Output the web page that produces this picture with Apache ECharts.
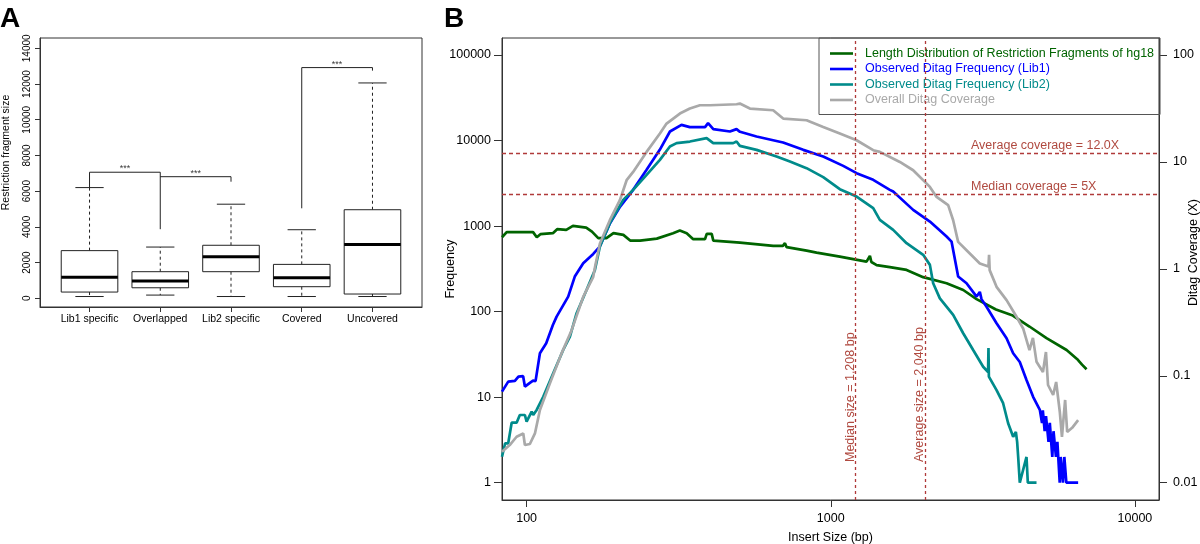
<!DOCTYPE html>
<html><head><meta charset="utf-8">
<script src="https://cdn.jsdelivr.net/npm/echarts@6/dist/echarts.min.js"></script>
<style>html,body{margin:0;padding:0;background:#fff}#c{width:1200px;height:544px}</style>
</head><body><div id="c"></div>
<script>
// ---------- Panel A data ----------
const boxCategories = ['Lib1 specific', 'Overlapped', 'Lib2 specific', 'Covered', 'Uncovered'];
const boxMin    = [100, 180, 100, 100, 100];
const boxQ1     = [350, 590, 1490, 650, 240];
const boxMedian = [1180, 970, 2330, 1150, 3020];
const boxQ3     = [2670, 1490, 2970, 1900, 4960];
const boxMax    = [6200, 2870, 5270, 3840, 12060];
const boxYTicks = [0, 2000, 4000, 6000, 8000, 10000, 12000, 14000];
const bracket1X = [1, 1, 2, 2];       const bracket1Y = [6200, 7060, 7060, 3870];
const bracket2X = [2, 3, 3];          const bracket2Y = [6810, 6810, 6530];
const bracket3X = [4, 4, 5, 5];       const bracket3Y = [5040, 12920, 12920, 12750];
const starX = [1.5, 2.5, 4.5];        const starY = [7060, 6810, 12920];

// ---------- Panel B data ----------
const seriesNames = ['Length Distribution of Restriction Fragments of hg18', 'Observed Ditag Frequency (Lib1)', 'Observed Ditag Frequency (Lib2)', 'Overall Ditag Coverage'];
const xTicks = [100, 1000, 10000];
const freqTicks = [1, 10, 100, 1000, 10000, 100000];
const covTicks = [0.01, 0.1, 1, 10, 100];
const medianSize = 1208, averageSize = 2040, averageCoverage = 12.0, medianCoverage = 5;

const greenX = [83, 86, 105, 108, 111, 122, 126, 135, 142, 157, 164, 172, 183, 193, 208, 219, 236, 268, 303, 319, 336, 353, 386, 391, 406, 411, 503, 647, 696, 707, 716, 833, 898, 1071, 1311, 1345, 1360, 1415, 1564, 1775, 2013, 2403, 2726, 3016, 3492, 3968, 4500, 5121, 5961, 6450, 6700, 6934];
const greenY = [741, 849, 849, 741, 804, 826, 920, 903, 1005, 960, 862, 722, 722, 826, 789, 677, 677, 714, 826, 886, 826, 703, 703, 811, 811, 677, 641, 587, 587, 631, 567, 517, 490, 440, 384, 448, 380, 350, 331, 307, 253, 215, 179, 140, 106, 90, 67, 48.9, 35.6, 28, 24, 21.2];

const blueX = [83, 87, 91.5, 94, 97.4, 98.7, 102.5, 105, 107, 110.6, 116, 122, 125.5, 137, 144, 153.5, 165.6, 168, 174, 188, 203, 224, 248, 274, 296, 323, 344, 386, 395, 411, 466, 490, 503, 570, 697, 812, 944, 1099, 1216, 1379, 1564, 1604, 1866, 2118, 2403, 2495, 2623, 2795, 3016, 3091, 3130, 3252, 3508, 3784, 3978, 4183, 4401, 4627, 4868, 4950, 4980, 5050, 5100, 5200, 5250, 5350, 5400, 5500, 5560, 5660, 5700, 5800, 5860, 5950, 6506];
const blueY = [11.6, 15.2, 15.5, 17.4, 17.6, 13.3, 14.7, 15.6, 15.4, 32.6, 42.7, 69.9, 87.4, 150, 257, 368, 473, 490, 576, 1081, 1690, 2651, 4543, 7783, 12746, 15265, 14346, 14346, 15980, 13591, 12746, 13591, 12645, 11138, 9476, 7783, 6501, 5059, 4156, 3471, 2651, 2532, 1547, 1129, 754, 659, 257, 215, 150, 170, 140, 114, 73.2, 48.9, 32.6, 25.8, 15.9, 10.1, 7.1, 5, 7, 4, 6, 3, 5, 2, 4, 2, 3, 1, 2, 1, 2, 1, 1];

const tealX = [83, 85, 87, 89.3, 92.7, 95, 98.7, 100, 103.9, 105.1, 107.9, 113.4, 122.3, 131.9, 138.8, 146, 157.4, 167.7, 174.2, 187.8, 207.8, 224, 248, 274.3, 295.9, 311.2, 344.2, 390.7, 410.7, 477.7, 490.1, 502.5, 570.3, 663.3, 733.9, 832.6, 944.3, 1071, 1216, 1379, 1450, 1604, 1775, 2013, 2118, 2171, 2284, 2526, 2725, 2939, 3170, 3290, 3300, 3310, 3360, 3508, 3687, 3830, 3978, 4061, 4100, 4132, 4183, 4401, 4420, 4445, 4748];
const tealY = [2.01, 2.89, 2.89, 5.03, 5.03, 6.19, 6.19, 5.17, 6.77, 6.19, 7.1, 10.1, 19.0, 35.6, 51.0, 95.8, 179, 307, 576, 1081, 2025, 2651, 3970, 5947, 8508, 9324, 9734, 10668, 9324, 9324, 9734, 8670, 7783, 6501, 5681, 4756, 3732, 2702, 2213, 1620, 1182, 903, 631, 461, 352, 215, 143, 91.5, 55.9, 35.6, 22.7, 19.7, 37.6, 17.4, 17.4, 12.1, 8.5, 4.95, 3.45, 3.92, 3, 2.01, 1, 2, 2, 1, 1];

const grayX = [83, 88, 92.7, 97.5, 98.7, 102.5, 106.5, 110.6, 119.3, 130.3, 140.6, 153.5, 165.6, 167.9, 174.2, 187.8, 202.6, 213.2, 224, 248, 274.3, 288.5, 319.1, 344.2, 371.3, 400.5, 490.1, 502.5, 542.2, 646.5, 697.4, 832.6, 944.3, 1071, 1216, 1379, 1450, 1687, 1866, 2118, 2228, 2432, 2526, 2623, 2795, 3091, 3300, 3315, 3330, 3508, 3784, 4082, 4290, 4501, 4620, 4748, 4985, 5099, 5180, 5385, 5509, 5664, 5756, 5896, 5988, 6217, 6506];
const grayY = [0.0195, 0.0225, 0.0269, 0.0289, 0.0225, 0.0230, 0.0289, 0.0478, 0.0849, 0.162, 0.267, 0.547, 0.842, 1.044, 1.728, 2.852, 4.386, 6.745, 8.064, 12.41, 18.43, 22.85, 28.34, 31.56, 33.88, 33.88, 34.62, 35.14, 31.56, 30.43, 25.44, 24.53, 21.24, 18.43, 15.95, 12.87, 12.41, 10.0, 8.36, 5.84, 4.71, 3.94, 2.85, 1.788, 1.495, 1.123, 1.05, 1.35, 0.973, 0.679, 0.510, 0.356, 0.277, 0.174, 0.226, 0.135, 0.1085, 0.167, 0.082, 0.0661, 0.0875, 0.0458, 0.0268, 0.0594, 0.0298, 0.0326, 0.0385];

// ---------- helpers ----------
const zip = (xs, ys) => xs.map((x, i) => [x, ys[i]]);
const fmtNum = v => String(+(+v).toPrecision(6));
const FONT = 'Liberation Sans';
const BROWN = '#B03A3A';

const boxData = boxCategories.map((c, i) => [i + 1, boxMin[i], boxQ1[i], boxMedian[i], boxQ3[i], boxMax[i]]);

function renderBox(params, api) {
  const x = api.value(0);
  const mn = api.value(1), q1 = api.value(2), md = api.value(3), q3 = api.value(4), mx = api.value(5);
  const hb = 0.4, hc = 0.2;
  const p = (xx, yy) => api.coord([xx, yy]);
  const ln = (a, b, style) => ({ type: 'line', shape: { x1: a[0], y1: a[1], x2: b[0], y2: b[1] }, style });
  const dashed = { stroke: '#222', lineWidth: 1, lineDash: [3, 3] };
  const solid = { stroke: '#222', lineWidth: 1 };
  const tl = p(x - hb, q3), br = p(x + hb, q1);
  return { type: 'group', children: [
    ln(p(x, q3), p(x, mx), dashed),
    ln(p(x, q1), p(x, mn), dashed),
    ln(p(x - hc, mx), p(x + hc, mx), solid),
    ln(p(x - hc, mn), p(x + hc, mn), solid),
    { type: 'rect', shape: { x: tl[0], y: tl[1], width: br[0] - tl[0], height: br[1] - tl[1] }, style: { fill: '#fff', stroke: '#222', lineWidth: 1 } },
    ln(p(x - hb, md), p(x + hb, md), { stroke: '#000', lineWidth: 3 })
  ]};
}

const bracketStyle = { color: '#222', width: 1 };
const curveColors = ['#006400', '#0000FF', '#008B8B', '#A9A9A9'];
const axisLineStyle = { color: '#333' };
const refLineBase = { color: BROWN, width: 1.3 };
const vLineStyle = Object.assign({ type: [3, 3] }, refLineBase);
const hLineStyle = Object.assign({ type: [4, 3] }, refLineBase);
const refLabel = (text, dist) => ({ show: true, formatter: text, position: 'insideStartTop', distance: dist, color: '#B04A40', fontSize: 12.5, fontFamily: FONT });

const option = {
  animation: false,
  textStyle: { fontFamily: FONT, color: '#000' },
  title: [
    { text: 'A', left: 0, top: 5, padding: 0, textStyle: { fontFamily: FONT, fontSize: 28, fontWeight: 'bold', color: '#000' } },
    { text: 'B', left: 444, top: 5, padding: 0, textStyle: { fontFamily: FONT, fontSize: 28, fontWeight: 'bold', color: '#000' } }
  ],
  grid: [
    { left: 40, top: 38, width: 382, height: 269, show: true, borderColor: '#333', borderWidth: 1, backgroundColor: 'transparent', outerBoundsMode: 'none', containLabel: false },
    { left: 502, top: 38, width: 657, height: 462, show: true, borderColor: '#333', borderWidth: 1, backgroundColor: 'transparent', outerBoundsMode: 'none', containLabel: false }
  ],
  xAxis: [
    { gridIndex: 0, type: 'value', min: 0.3, max: 5.7,
      axisLine: { show: true, onZero: false, lineStyle: axisLineStyle },
      axisTick: { show: true, length: 5, customValues: [1, 2, 3, 4, 5], lineStyle: axisLineStyle },
      axisLabel: { customValues: [1, 2, 3, 4, 5], formatter: v => boxCategories[Math.round(v) - 1], fontSize: 10.5, color: '#000', margin: 7, fontFamily: FONT },
      splitLine: { show: false }, axisPointer: { show: false } },
    { gridIndex: 1, type: 'log', logBase: 10, min: 83, max: 12000,
      axisLine: { show: true, onZero: false, lineStyle: axisLineStyle },
      axisTick: { show: true, length: 7, customValues: xTicks, lineStyle: axisLineStyle },
      axisLabel: { customValues: xTicks, formatter: fmtNum, fontSize: 12.5, color: '#000', margin: 12, fontFamily: FONT },
      splitLine: { show: false }, minorTick: { show: false }, minorSplitLine: { show: false }, axisPointer: { show: false },
      name: 'Insert Size (bp)', nameLocation: 'middle', nameGap: 31, nameMoveOverlap: false,
      nameTextStyle: { fontSize: 12.5, color: '#000', fontFamily: FONT } }
  ],
  yAxis: [
    { gridIndex: 0, type: 'value', min: -487, max: 14577,
      axisLine: { show: true, onZero: false, lineStyle: axisLineStyle },
      axisTick: { show: true, length: 5, customValues: boxYTicks, lineStyle: axisLineStyle },
      axisLabel: { customValues: boxYTicks, formatter: fmtNum, rotate: 90, fontSize: 10, color: '#000', margin: 8, fontFamily: FONT },
      splitLine: { show: false },
      name: 'Restriction fragment size', nameLocation: 'middle', nameGap: 28, nameRotate: 90, nameMoveOverlap: false,
      nameTextStyle: { fontSize: 10.5, color: '#000', fontFamily: FONT, padding: [0, 0, 0, 40] } },
    { gridIndex: 1, type: 'log', logBase: 10, min: 0.628, max: 158000, position: 'left',
      axisLine: { show: true, onZero: false, lineStyle: axisLineStyle },
      axisTick: { show: true, length: 8, customValues: freqTicks, lineStyle: axisLineStyle },
      axisLabel: { customValues: freqTicks, formatter: fmtNum, fontSize: 12.5, color: '#000', margin: 11, fontFamily: FONT },
      splitLine: { show: false }, minorTick: { show: false }, minorSplitLine: { show: false },
      name: 'Frequency', nameLocation: 'middle', nameGap: 45, nameRotate: 90, nameMoveOverlap: false,
      nameTextStyle: { fontSize: 12.5, color: '#000', fontFamily: FONT } },
    { gridIndex: 1, type: 'log', logBase: 10, min: 0.00689, max: 144.2, position: 'right',
      axisLine: { show: true, onZero: false, lineStyle: axisLineStyle },
      axisTick: { show: true, length: 8, customValues: covTicks, lineStyle: axisLineStyle },
      axisLabel: { customValues: covTicks, formatter: fmtNum, fontSize: 12.5, color: '#000', margin: 14, fontFamily: FONT },
      splitLine: { show: false }, minorTick: { show: false }, minorSplitLine: { show: false },
      name: 'Ditag Coverage (X)', nameLocation: 'middle', nameGap: 28, nameRotate: 90, nameMoveOverlap: false,
      nameTextStyle: { fontSize: 12.5, color: '#000', fontFamily: FONT, padding: [0, 0, 0, 33] } }
  ],
  legend: {
    orient: 'vertical', left: 819, top: 38, padding: [9, 6, 8, 11], itemGap: 2.5, itemWidth: 23, itemHeight: 2.6,
    icon: 'rect',
    borderColor: '#555', borderWidth: 1, selectedMode: false,
    textStyle: { fontSize: 12.5, fontFamily: FONT, padding: [0, 0, 0, 7] },
    data: seriesNames.map((n, i) => ({ name: n, textStyle: { color: curveColors[i] } }))
  },
  series: [
    { type: 'custom', name: 'boxes', xAxisIndex: 0, yAxisIndex: 0, renderItem: renderBox, data: boxData,
      encode: { x: 0, y: [1, 2, 3, 4, 5] }, silent: true },
    { type: 'line', xAxisIndex: 0, yAxisIndex: 0, data: zip(bracket1X, bracket1Y), symbol: 'none', lineStyle: bracketStyle, silent: true },
    { type: 'line', xAxisIndex: 0, yAxisIndex: 0, data: zip(bracket2X, bracket2Y), symbol: 'none', lineStyle: bracketStyle, silent: true },
    { type: 'line', xAxisIndex: 0, yAxisIndex: 0, data: zip(bracket3X, bracket3Y), symbol: 'none', lineStyle: bracketStyle, silent: true },
    { type: 'scatter', xAxisIndex: 0, yAxisIndex: 0, data: zip(starX, starY), symbolSize: 0, silent: true,
      label: { show: true, formatter: '***', position: 'top', distance: -1, fontSize: 9, color: '#000', fontFamily: FONT } },

    { type: 'line', name: seriesNames[0], xAxisIndex: 1, yAxisIndex: 1, data: zip(greenX, greenY), symbol: 'none',
      color: curveColors[0], lineStyle: { width: 2.7, color: curveColors[0] }, silent: true,
      markLine: { silent: true, symbol: ['none', 'none'], lineStyle: vLineStyle,
        data: [
          { xAxis: medianSize, lineStyle: vLineStyle, label: refLabel('Median size = 1,208 bp', [38, -1]) },
          { xAxis: averageSize, lineStyle: vLineStyle, label: refLabel('Average size = 2,040 bp', [38, -1]) }
        ] } },
    { type: 'line', name: seriesNames[1], xAxisIndex: 1, yAxisIndex: 1, data: zip(blueX, blueY), symbol: 'none',
      color: curveColors[1], lineStyle: { width: 2.7, color: curveColors[1] }, silent: true },
    { type: 'line', name: seriesNames[2], xAxisIndex: 1, yAxisIndex: 1, data: zip(tealX, tealY), symbol: 'none',
      color: curveColors[2], lineStyle: { width: 2.7, color: curveColors[2] }, silent: true },
    { type: 'line', name: seriesNames[3], xAxisIndex: 1, yAxisIndex: 2, data: zip(grayX, grayY), symbol: 'none',
      color: curveColors[3], lineStyle: { width: 2.7, color: curveColors[3] }, silent: true,
      markLine: { silent: true, symbol: ['none', 'none'], lineStyle: hLineStyle,
        data: [
          { yAxis: averageCoverage, lineStyle: hLineStyle, label: refLabel('Average coverage = 12.0X', [469, 1]) },
          { yAxis: medianCoverage, lineStyle: hLineStyle, label: refLabel('Median coverage = 5X', [469, 1]) }
        ] } }
  ]
};

const chart = echarts.init(document.getElementById('c'), null, { renderer: 'canvas', width: 1200, height: 544 });
chart.setOption(option);
</script>
</body></html>
